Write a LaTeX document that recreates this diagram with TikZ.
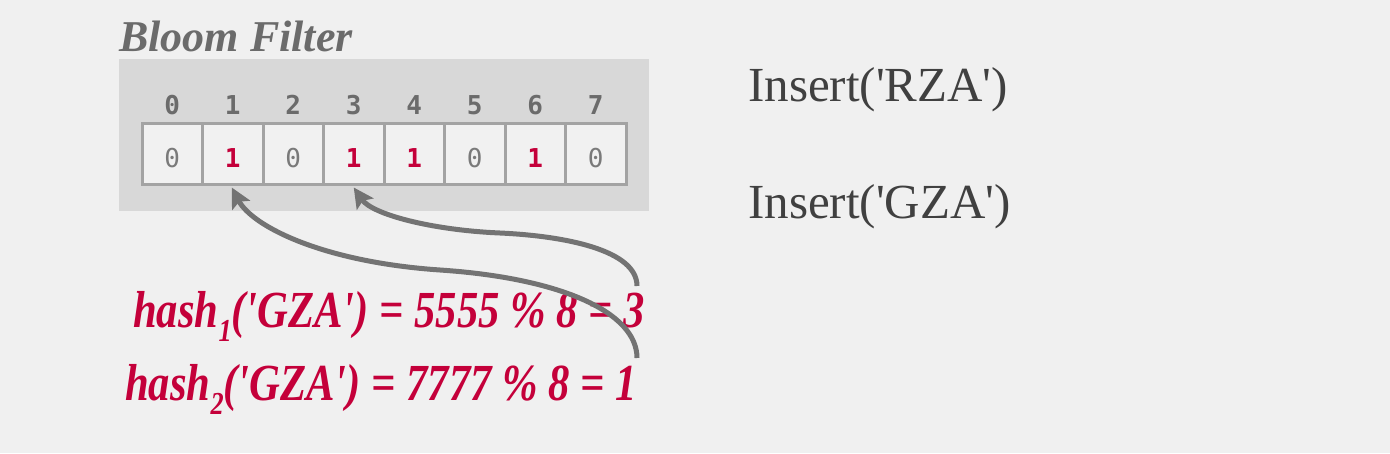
\documentclass[tikz,border=0pt]{standalone}
\usepackage{fontspec}
\usepackage{graphicx}
\setmainfont{Liberation Serif}
\newfontfamily\monof{DejaVu Sans Mono}
\usetikzlibrary{arrows.meta}
\definecolor{bgc}{HTML}{F0F0F0}
\definecolor{boxc}{HTML}{D8D8D8}
\definecolor{cellline}{HTML}{A3A3A3}
\definecolor{cellfill}{HTML}{F1F1F1}
\definecolor{txtgray}{HTML}{6B6B6B}
\definecolor{zerogray}{HTML}{7A7A7A}
\definecolor{insgray}{HTML}{404040}
\definecolor{redc}{HTML}{C4003A}
\definecolor{arrc}{HTML}{737373}
\newcommand{\hsub}[1]{\raisebox{-0.28em}{\fontsize{32}{32}\selectfont #1}}
\begin{document}
\begin{tikzpicture}[x=1pt,y=-1pt,
  cellbox/.style={draw=cellline,line width=3pt,fill=cellfill,minimum width=60.5pt,minimum height=61pt,inner sep=0pt,text height=27pt,text depth=0pt,font=\monof\fontsize{26}{26}\selectfont},
  idxlabel/.style={inner sep=0pt,anchor=base,text=txtgray,font=\monof\bfseries\fontsize{26}{26}\selectfont},
  zerotxt/.style={text=zerogray},
  onetxt/.style={text=redc,font=\monof\bfseries\fontsize{26}{26}\selectfont},
  instxt/.style={inner sep=0pt,anchor=base west,text=insgray,font=\fontsize{49}{49}\selectfont},
  hashtxt/.style={inner sep=0pt,anchor=base west,text=redc,font=\bfseries\itshape\fontsize{52}{52}\selectfont},
  hasharrow/.style={draw=arrc,line width=5pt,-{Stealth[length=20pt,width=20pt,inset=4pt]}}
]
\useasboundingbox (0,0) rectangle (1390,453);
\fill[bgc] (0,0) rectangle (1390,453);
\node[inner sep=0pt,anchor=base west,text=txtgray,font=\bfseries\itshape\fontsize{44}{44}\selectfont] (title) at (119,51) {Bloom Filter};
\fill[boxc] (119,59) rectangle (649,211);
\foreach \i/\v in {0/0,1/1,2/0,3/1,4/1,5/0,6/1,7/0}{
  \pgfmathsetmacro{\cx}{142+60.5*(\i+0.5)}
  \node[idxlabel] (idx\i) at (\cx,114) {\i};
  \ifnum\v=0
    \node[cellbox,zerotxt] (c\i) at (\cx,153.5) {0};
  \else
    \node[cellbox,onetxt] (c\i) at (\cx,153.5) {1};
  \fi
}
\node[instxt] (ins1) at (748,101) {Insert(\textquotesingle RZA\textquotesingle)};
\node[instxt] (ins2) at (748,218) {Insert(\textquotesingle GZA\textquotesingle)};
\node[hashtxt] (h1) at (133,327) {\scalebox{0.82}[1]{hash\hsub{1}(\textquotesingle GZA\textquotesingle) = 5555 \% 8 = 3}};
\node[hashtxt] (h2) at (125,400) {\scalebox{0.82}[1]{hash\hsub{2}(\textquotesingle GZA\textquotesingle) = 7777 \% 8 = 1}};
\coordinate (s1) at (637,286);
\coordinate (s2) at (637,358);
\coordinate (t3) at ([yshift=-2pt]c3.south);
\coordinate (t1) at ([yshift=-2pt,xshift=-1pt]c1.south);
\draw[hasharrow] (s1) .. controls (637,250) and (565,236) .. (500,233) .. controls (430,230) and (372,214) .. (t3);
\draw[hasharrow] (s2) .. controls (637,312) and (560,278) .. (440,270) .. controls (322,262) and (252,226) .. (t1);
\end{tikzpicture}
\end{document}
